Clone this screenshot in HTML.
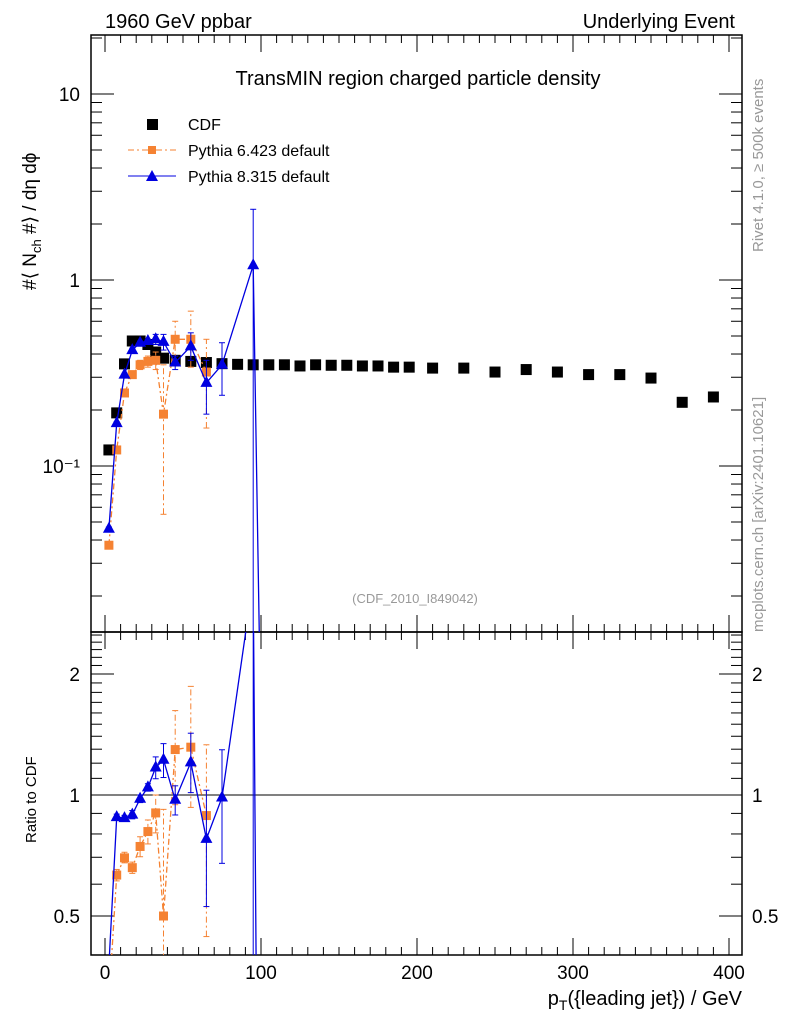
<!DOCTYPE html>
<html><head><meta charset="utf-8"><style>
html,body{margin:0;padding:0;background:#fff;overflow:hidden;width:786px;height:1024px;}
svg{display:block;font-family:"Liberation Sans",sans-serif;}
</style></head><body>
<svg id="c" width="786" height="1024" viewBox="0 0 786 1024">
<text x="105" y="28" font-size="20">1960 GeV ppbar</text>
<text x="735" y="28" font-size="20" text-anchor="end">Underlying Event</text>
<text x="418" y="85" font-size="20" text-anchor="middle">TransMIN region charged particle density</text>
<text x="415" y="603" font-size="13" fill="#999" text-anchor="middle">(CDF_2010_I849042)</text>
<text transform="translate(763,252) rotate(-90)" font-size="15" fill="#999">Rivet 4.1.0, ≥ 500k events</text>
<text transform="translate(763,632) rotate(-90)" font-size="15" fill="#999">mcplots.cern.ch [arXiv:2401.10621]</text>
<text transform="translate(36,290) rotate(-90)" font-size="19">#⟨ N<tspan font-size="13" dy="5">ch</tspan><tspan dy="-5"> #⟩ / dη dϕ</tspan></text>
<text transform="translate(36,843) rotate(-90)" font-size="15">Ratio to CDF</text>
<text x="742" y="1005" font-size="20" text-anchor="end">p<tspan font-size="14" dy="5">T</tspan><tspan dy="-5">({leading jet}) / GeV</tspan></text>
<g id="legend">
<g><rect x="147" y="119" width="11" height="11" fill="#000"/><text x="188" y="130" font-size="16">CDF</text></g>
<g><line x1="128" y1="150" x2="176" y2="150" stroke="#f58232" stroke-dasharray="6,3,2,3"/><rect x="148" y="146" width="8" height="8" fill="#f58232"/><text x="188" y="156" font-size="16">Pythia 6.423 default</text></g>
<g><line x1="128" y1="176" x2="176" y2="176" stroke="#0000e0"/><polygon points="152,170 158,181 146,181" fill="#0000e0"/><text x="188" y="182" font-size="16">Pythia 8.315 default</text></g>
</g>
</svg>
<script>
const cdfX=[2.5,7.5,12.5,17.5,22.5,27.5,32.5,37.5,45,55,65,75,85,95,105,115,125,135,145,155,165,175,185,195,210,230,250,270,290,310,330,350,370,390];
const cdfY=[0.122,0.193,0.354,0.47,0.47,0.45,0.41,0.38,0.37,0.365,0.36,0.355,0.352,0.35,0.35,0.35,0.345,0.35,0.348,0.348,0.345,0.345,0.34,0.34,0.336,0.336,0.32,0.33,0.32,0.31,0.31,0.297,0.22,0.235];
const py6X=[2.5,7.5,12.5,17.5,22.5,27.5,32.5,37.5,45,55,65];
const py6Y=[0.0375,0.122,0.247,0.31,0.35,0.365,0.37,0.19,0.48,0.48,0.32];
const py6Lo=[0.036,0.118,0.24,0.3,0.33,0.34,0.33,0.055,0.35,0.34,0.16];
const py6Hi=[0.039,0.126,0.255,0.32,0.37,0.39,0.41,0.35,0.6,0.68,0.48];
const py8X=[2.5,7.5,12.5,17.5,22.5,27.5,32.5,37.5,45,55,65,75,95,105];
const py8Y=[0.046,0.17,0.31,0.42,0.46,0.47,0.48,0.465,0.36,0.44,0.28,0.35,1.2,0.00001];
const py8Lo=[0.045,0.167,0.305,0.41,0.45,0.46,0.45,0.42,0.33,0.37,0.19,0.24,0.0001,0.00001];
const py8Hi=[0.047,0.173,0.315,0.43,0.47,0.48,0.51,0.51,0.39,0.52,0.37,0.46,2.4,0.00001];
const xTicks=[0,100,200,300,400];
const mainTicks=[0.1,1,10];
const mainTickLabels=["10\u207B\u00B9","1","10"];
const ratioTicks=[0.5,1,2];
const ratioTickLabels=["0.5","1","2"];

const NS="http://www.w3.org/2000/svg";
const svg=document.getElementById('c');
const L=91,R=742,T1=35,B1=632,T2=632,B2=955;
const sx=v=>105+1.56*v;
const syM=v=>280-186*Math.log10(v);
const syR=v=>795-402*Math.log10(v);
function mk(tag,attrs,parent){const e=document.createElementNS(NS,tag);for(const k in attrs)e.setAttribute(k,attrs[k]);(parent||svg).appendChild(e);return e;}
const defs=mk('defs',{});
const c1=mk('clipPath',{id:'cm'},defs);mk('rect',{x:L,y:T1,width:R-L,height:B1-T1},c1);
const c2=mk('clipPath',{id:'cr'},defs);mk('rect',{x:L,y:T2,width:R-L,height:B2-T2},c2);
const f1=mk('rect',{x:L,y:T1,width:R-L,height:B1-T1,fill:'none',stroke:'#000','stroke-width':1.5});


const f2=mk('rect',{x:L,y:T2,width:R-L,height:B2-T2,fill:'none',stroke:'#000','stroke-width':1.5});


const axg=mk('g',{stroke:'#000','stroke-width':1});


for(let v=-10;v<=410;v+=10){const x=sx(v);if(x<L||x>R)continue;const maj=v%100===0;const len=maj?17:8;
 [[T1,1],[B1,-1],[T2,1],[B2,-1]].forEach(([y,d])=>mk('line',{x1:x,x2:x,y1:y,y2:y+d*len},axg));}
xTicks.forEach(v=>{const t=mk('text',{x:sx(v),y:979,'font-size':19,'text-anchor':'middle'});t.textContent=v;
 
 });
const yg=mk('g',{stroke:'#000'});


for(let e=-2;e<=1;e++)for(let m=1;m<10;m++){const v=m*Math.pow(10,e);const y=syM(v);if(y<T1||y>B1)continue;const len=m===1?23:11;
 mk('line',{x1:L,x2:L+len,y1:y,y2:y},yg);mk('line',{x1:R,x2:R-len,y1:y,y2:y},yg);}
mainTicks.forEach((v,i)=>{const t=mk('text',{x:80,y:syM(v)+7,'font-size':19,'text-anchor':'end'});t.textContent=mainTickLabels[i];
 
 });
const rg=mk('g',{stroke:'#000'});


for(let v=0.4;v<=2.55;v+=0.1){const y=syR(v);if(y<T2||y>B2)continue;const maj=Math.abs(v-0.5)<1e-6||Math.abs(v-1)<1e-6||Math.abs(v-2)<1e-6;const len=maj?23:11;
 mk('line',{x1:L,x2:L+len,y1:y,y2:y},rg);mk('line',{x1:R,x2:R-len,y1:y,y2:y},rg);}
ratioTicks.forEach((v,i)=>{[[80,'end'],[752,'start']].forEach(([x,a])=>{const t=mk('text',{x:x,y:syR(v)+7,'font-size':19,'text-anchor':a});t.textContent=ratioTickLabels[i];
 
 });});
const one=mk('line',{x1:L,x2:R,y1:syR(1),y2:syR(1),stroke:'#000'});


function cdfAt(x){for(let i=0;i<cdfX.length;i++)if(Math.abs(cdfX[i]-x)<0.01)return cdfY[i];return 0.35;}
function series(X,Y,Lo,Hi,col,dash,marker,name,sy,ratio,clip){
 const g=mk('g',{'clip-path':'url(#'+clip+')'});
 
 
 const pts=[];
 X.forEach((x,i)=>{const d=ratio?cdfAt(x):1;const y=sy(Math.max(Y[i]/d,1e-6));pts.push(sx(x)+','+y);
  const yl=sy(Math.max(Lo[i]/d,1e-6)),yh=sy(Hi[i]/d);
  const eb=mk('line',{x1:sx(x),x2:sx(x),y1:yl,y2:yh,stroke:col,'stroke-dasharray':dash||'none'},g);
  
  
  mk('line',{x1:sx(x)-3,x2:sx(x)+3,y1:yh,y2:yh,stroke:col},g);
  mk('line',{x1:sx(x)-3,x2:sx(x)+3,y1:yl,y2:yl,stroke:col},g);});
 const pl=mk('polyline',{points:pts.join(' '),fill:'none',stroke:col,'stroke-width':1.3,'stroke-dasharray':dash||'none'},g);
 
 
 pts.forEach(p=>{const [x,y]=p.split(',').map(Number);let m;
  if(marker==='sq')m=mk('rect',{x:x-4.5,y:y-4.5,width:9,height:9,fill:col},g);
  else m=mk('polygon',{points:`${x},${y-7} ${x+6},${y+4} ${x-6},${y+4}`,fill:col},g);
  
  });
}
const cg=mk('g',{'clip-path':'url(#cm)'});


cdfX.forEach((x,i)=>{const r=mk('rect',{x:sx(x)-5.5,y:syM(cdfY[i])-5.5,width:11,height:11,fill:'#000'},cg);
 
 });
series(py6X,py6Y,py6Lo,py6Hi,'#f58232','6,3,2,3','sq','pythia6',syM,false,'cm');
series(py8X,py8Y,py8Lo,py8Hi,'#0000e0',null,'tri','pythia8',syM,false,'cm');
series(py6X,py6Y,py6Lo,py6Hi,'#f58232','6,3,2,3','sq','pythia6-ratio',syR,true,'cr');
series(py8X,py8Y,py8Lo,py8Hi,'#0000e0',null,'tri','pythia8-ratio',syR,true,'cr');
</script>
</body></html>
